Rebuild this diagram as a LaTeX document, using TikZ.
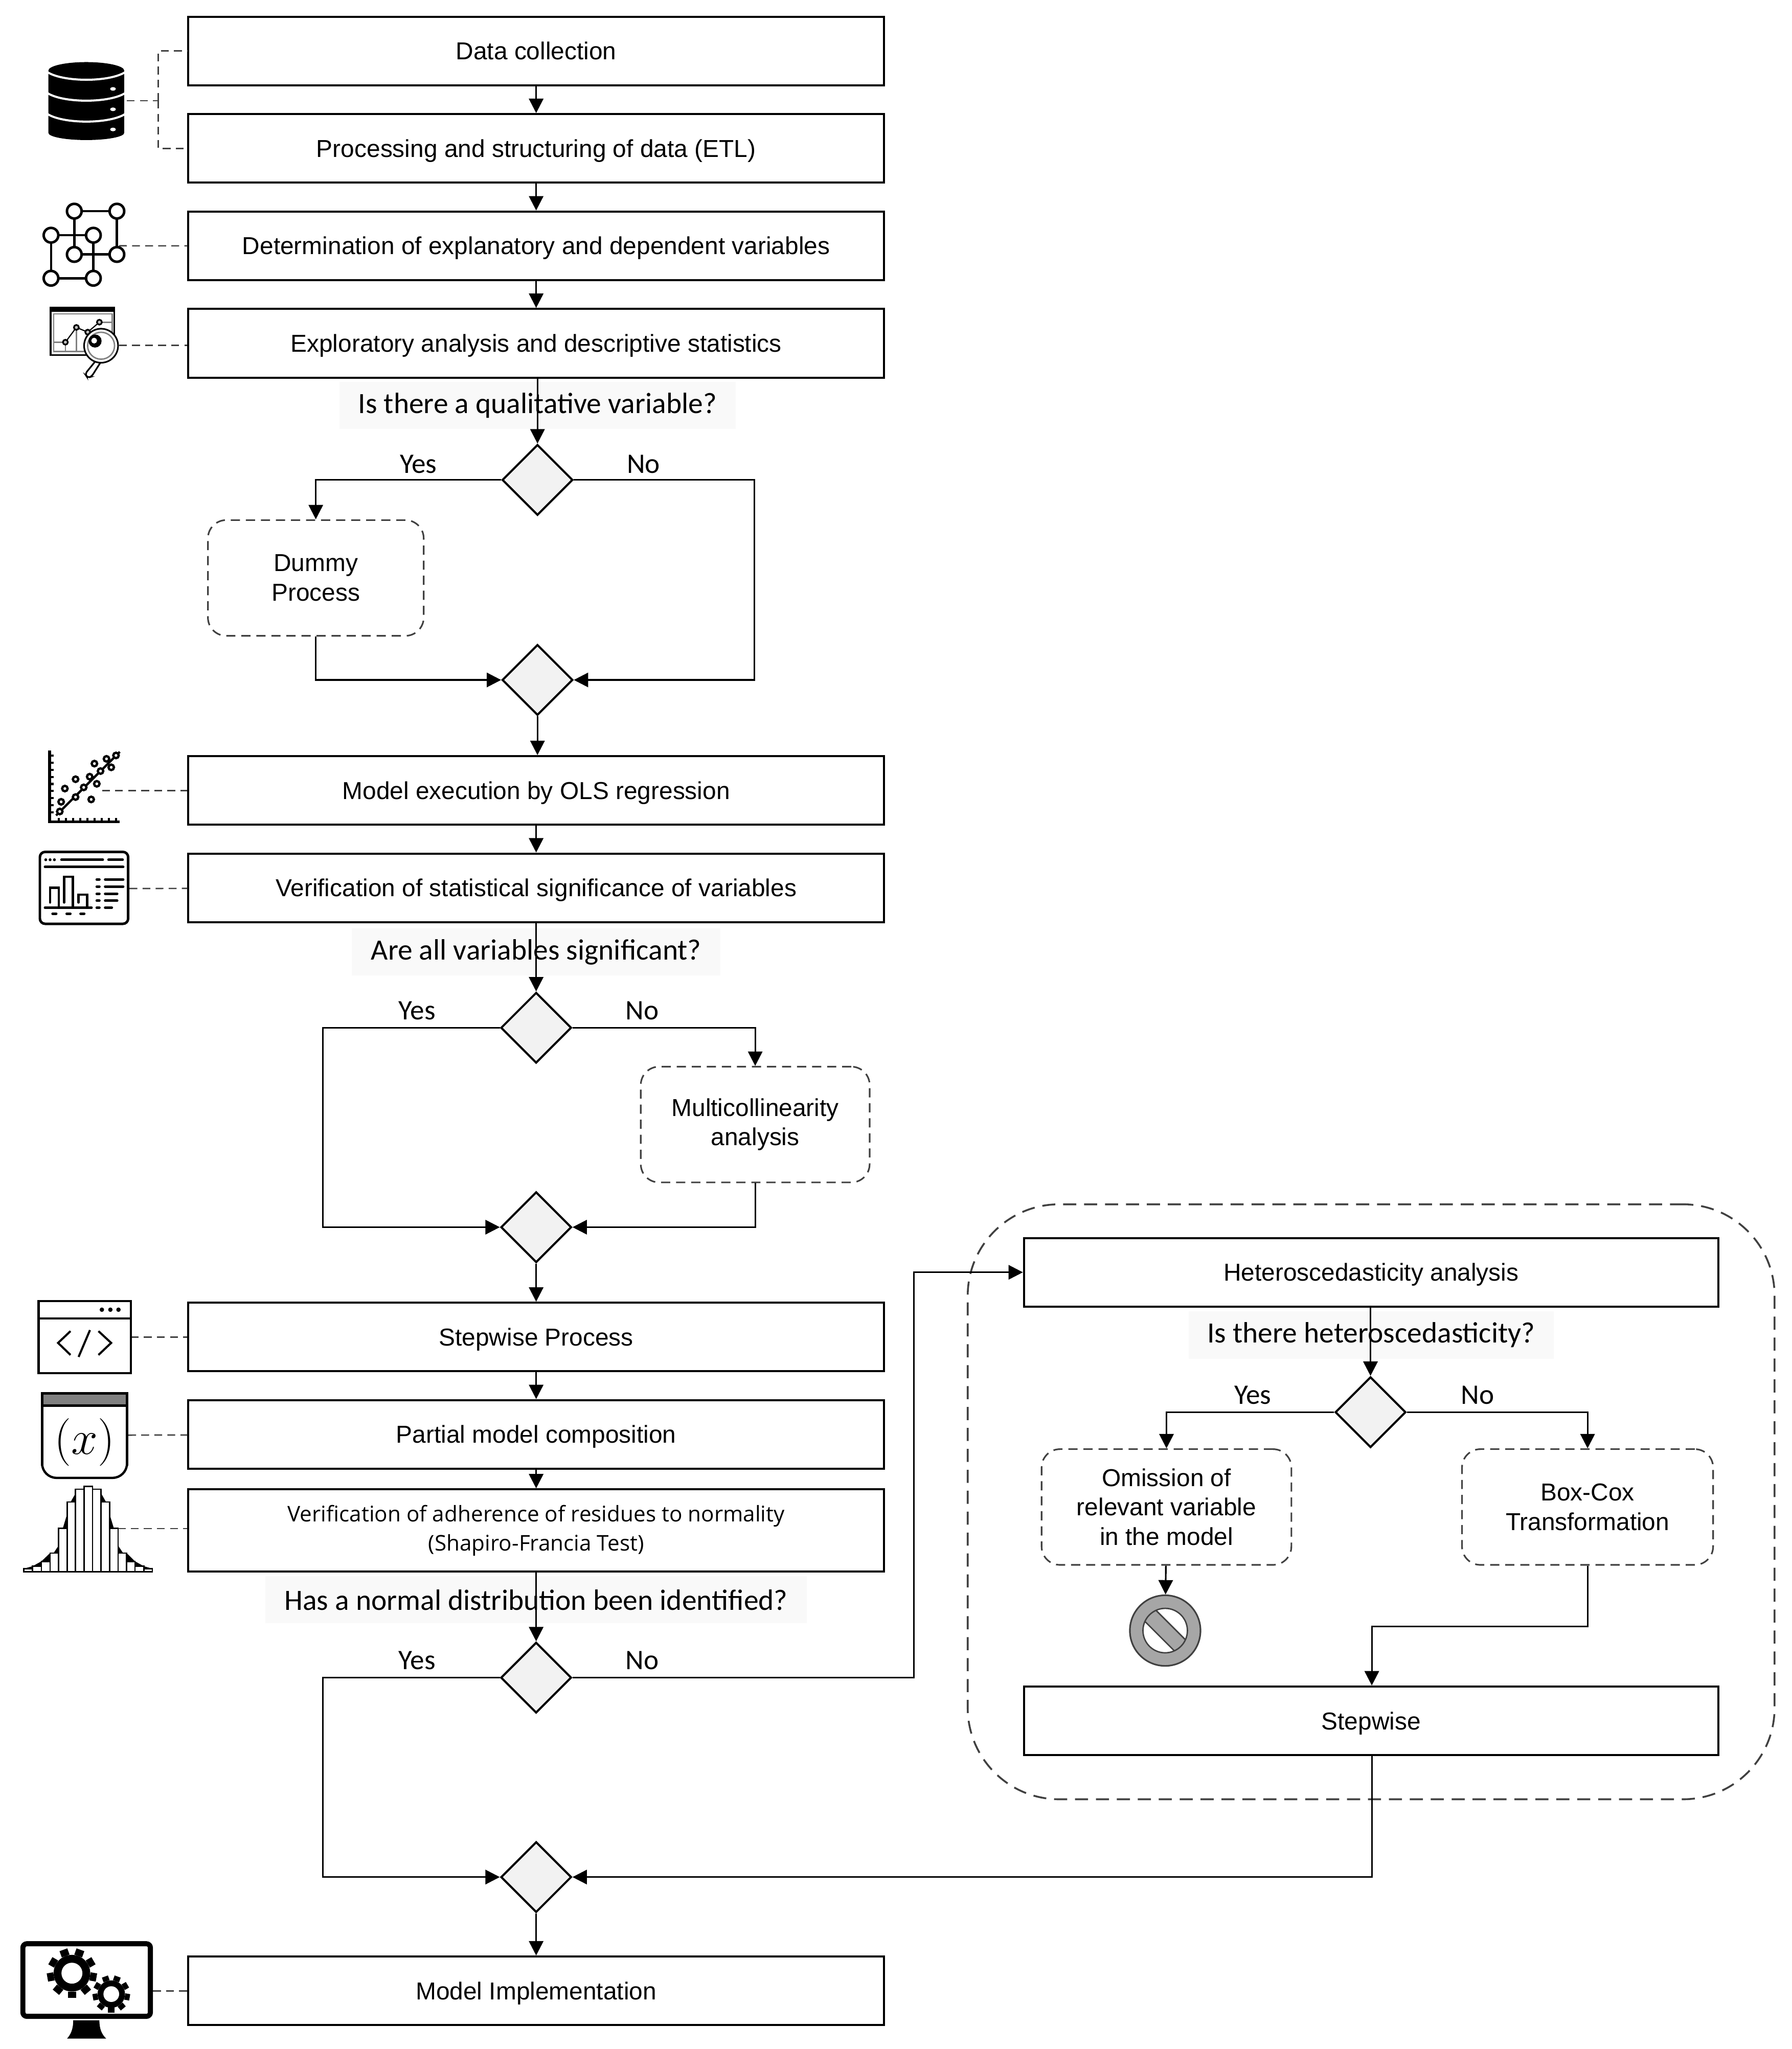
\documentclass[tikz,border=0pt]{standalone}
\usepackage{fontspec}
\setmainfont{Liberation Sans}
\newfontfamily\askfont{Carlito}
\newfontfamily\testfont{Open Sans}
\usetikzlibrary{arrows.meta, positioning, shapes.geometric}
\definecolor{edgegray}{HTML}{404040}
\definecolor{askfill}{HTML}{F9F9F9}
\definecolor{decidefill}{HTML}{F2F2F2}
\definecolor{stopgray}{HTML}{A6A6A6}
\newcommand{\gearicon}[5]{
\foreach \a in {90,130,...,410}
	\draw[line width=#5] ([shift={(#1,#2)}]\a:#3) -- ([shift={(#1,#2)}]\a:#3+#3*0.36);
\fill[black] (#1,#2) circle [radius=#3];
\fill[white] (#1,#2) circle [radius=#4];
}

\begin{document}
\begin{tikzpicture}[
						x=0.2mm, y=-0.2mm,
						node distance={14.9mm},
						boxstep/.style = {draw, line width=0.9pt, minimum width=106.4mm, minimum height=10.5mm, font=\fontsize{10.65}{12.8}\selectfont, align=center, fill=white},
						rowstep/.style = {boxstep, text height=7.6pt, text depth=0pt},
						dashstep/.style = {draw=edgegray, line width=0.7pt, dash pattern=on 1.4mm off 0.9mm, rounded corners=2.8mm, minimum height=17.7mm, font=\fontsize{10.65}{12.8}\selectfont, align=center},
						decide/.style = {draw, line width=0.9pt, fill=decidefill, diamond, aspect=1, inner sep=0pt, minimum width=10.8mm, minimum height=10.8mm},
						asklabel/.style = {fill=askfill, font=\askfont\fontsize{12.8}{15}\selectfont, inner sep=0pt, minimum height=7.2mm},
						answer/.style = {font=\askfont\fontsize{12.3}{15}\selectfont, inner sep=0pt},
						flow/.style = {-{Triangle[length=2.2mm, width=2.2mm]}, line width=0.7pt},
						guide/.style = {draw=edgegray, line width=0.6pt, dash pattern=on 1.2mm off 0.8mm}
					]
\useasboundingbox (0,0) rectangle (1370,1567);

\node[draw=edgegray, line width=0.8pt, dash pattern=on 2mm off 1.2mm, rounded corners=14mm, minimum width=123.4mm, minimum height=91mm] (group) at (1048.5,1148.5) {};

\node[rowstep] (1) at (410,39) {Data collection};
\node[rowstep] (2) [below of=1] {Processing and structuring of data (ETL)};
\node[rowstep] (3) [below of=2] {Determination of explanatory and dependent variables};
\node[rowstep] (4) [below of=3] {Exploratory analysis and descriptive statistics};
\node[asklabel, minimum width=60.6mm] (ask1) at (411,310) {Is there a qualitative variable?};
\node[decide] (d1) at (411,367) {};
\node[dashstep, minimum width=33mm] (dummy) at (241.5,442) {Dummy\\Process};
\node[decide] (d2) at (411,520) {};
\node[rowstep] (5) at (410,604.5) {Model execution by OLS regression};
\node[rowstep] (6) [below of=5] {Verification of statistical significance of variables};
\node[asklabel, minimum width=56.4mm] (ask2) at (410,728) {Are all variables significant?};
\node[decide] (d3) at (410,786) {};
\node[dashstep, minimum width=35mm] (multi) at (577.5,860) {Multicollinearity\\analysis};
\node[decide] (d4) at (410,938.5) {};
\node[rowstep] (7) at (410,1022.5) {Stepwise Process};
\node[rowstep] (8) [below of=7] {Partial model composition};
\node[boxstep, minimum height=12.6mm, font=\testfont\fontsize{9.4}{12.8}\selectfont] (9) at (410,1170.5) {Verification of adherence of residues to normality\\(Shapiro-Francia Test)};
\node[asklabel, minimum width=82.8mm] (ask3) at (410,1223.5) {Has a normal distribution been identified?};
\node[decide] (d5) at (410,1283) {};
\node[decide] (d6) at (410,1435.5) {};
\node[rowstep] (10) at (410,1522.5) {Model Implementation};

\node[rowstep, minimum width=106.2mm] (hetero) at (1048.5,973) {Heteroscedasticity analysis};
\node[asklabel, minimum width=55.8mm] (ask4) at (1048.5,1021) {Is there heteroscedasticity?};
\node[decide] (d7) at (1048,1080) {};
\node[dashstep, minimum width=38.2mm] (omit) at (892,1152.5) {Omission of\\relevant variable\\in the model};
\node[dashstep, minimum width=38.4mm] (boxcox) at (1214,1152.5) {Box-Cox\\Transformation};
\node[draw=edgegray, line width=0.7pt, fill=stopgray, circle, inner sep=0pt, minimum size=10.8mm] (stop) at (891,1247) {};
\node[rowstep, minimum width=106.2mm] (stepwise) at (1048.5,1316) {Stepwise};

\begin{scope}
\clip (891,1247) circle [radius=17];
\fill[white] (891,1247) circle [radius=17];
\draw[edgegray, line width=0.6pt, fill=stopgray, rotate around={-45:(891,1247)}] (860,1241) rectangle (922,1253);
\end{scope}
\draw[edgegray, line width=0.6pt] (891,1247) circle [radius=17];

\node[answer] (y1) at (320,355) {Yes};
\node[answer] (n1) at (492,355) {No};
\node[answer] (y2) at (319,773) {Yes};
\node[answer] (n2) at (491,773) {No};
\node[answer] (y3) at (319,1270) {Yes};
\node[answer] (n3) at (491,1270) {No};
\node[answer] (y4) at (958,1067) {Yes};
\node[answer] (n4) at (1130,1067) {No};

\draw[flow] (1) -- (2);
\draw[flow] (2) -- (3);
\draw[flow] (3) -- (4);
\draw[flow] (4.south -| d1) -- (d1);
\draw[flow] (d1) -| (dummy);
\draw[flow] (d1) -| (577,520) -- (d2);
\draw[flow] (dummy) |- (d2);
\draw[flow] (d2) -- (d2 |- 5.north);
\draw[flow] (5) -- (6);
\draw[flow] (6) -- (d3);
\draw[flow] (d3) -| (247,938.5) -- (d4);
\draw[flow] (d3) -| (multi);
\draw[flow] (multi) |- (d4);
\draw[flow] (d4) -- (7);
\draw[flow] (7) -- (8);
\draw[flow] (8) -- (9);
\draw[flow] (9) -- (d5);
\draw[flow] (d5) -| (247,1435.5) -- (d6);
\draw[flow] (d5) -| (699,973) -- (hetero);
\draw[flow] (hetero.south -| d7) -- (d7);
\draw[flow] (d7) -| (omit);
\draw[flow] (d7) -| (boxcox);
\draw[flow] (omit) -- (stop);
\draw[flow] (boxcox) |- (1049,1244) -- (stepwise.north -| 1049,0);
\draw[flow] (stepwise.south -| 1049,0) |- (d6);
\draw[flow] (d6) -- (10);

\coordinate (dbjoin) at (121,77);
\coordinate (dbpin) at (97,77);
\coordinate (netpin) at (91,188);
\coordinate (lenspin) at (91,264);
\coordinate (scatterpin) at (78,604.5);
\coordinate (panelpin) at (99,679.5);
\coordinate (codepin) at (100,1022.5);
\coordinate (funcpin) at (98,1097.5);
\coordinate (bellpin) at (90,1169);
\coordinate (screenpin) at (117,1522.5);

\draw[guide] (dbpin) -- (dbjoin);
\draw[guide] (dbjoin) |- (1);
\draw[guide] (dbjoin) |- (2);
\draw[guide] (netpin) -- (3);
\draw[guide] (lenspin) -- (4.west |- lenspin);
\draw[guide] (scatterpin) -- (5);
\draw[guide] (panelpin) -- (6);
\draw[guide] (codepin) -- (7);
\draw[guide] (funcpin) -- (8);
\draw[guide] (bellpin) -- (9.west |- bellpin);
\draw[guide] (screenpin) -- (10);

\fill (37,54) arc [start angle=180, end angle=360, x radius=29, y radius=6.5] -- (95,101.6) arc [start angle=0, end angle=180, x radius=29, y radius=5.5] -- cycle;
\foreach \y in {55,71,87}
	\draw[white, line width=0.9pt] (36,\y) .. controls (48,\y+8) and (84,\y+8) .. (96,\y);
\foreach \y in {68,83.6,99}
	\fill[white] (86.4,\y) ellipse [x radius=2.2, y radius=1.4];

\foreach \xa/\ya/\xb/\yb in {56.8/161.5/89.4/161.5, 56.8/161.5/56.8/194.6, 89.4/161.5/89.4/194.6, 39/179.9/71.4/179.9, 56.8/194.6/89.4/194.6, 39/179.9/39/212.8, 71.4/179.9/71.4/212.8, 39/212.8/71.4/212.8}
	\draw[line width=1pt] (\xa,\ya) -- (\xb,\yb);
\foreach \xa/\ya in {56.8/161.5, 89.4/161.5, 39/179.9, 71.4/179.9, 56.8/194.6, 89.4/194.6, 39/212.8, 71.4/212.8}
	\draw[line width=1.1pt, fill=white] (\xa,\ya) circle [radius=5.6];

\draw[line width=0.7pt] (38.7,235.3) rectangle (87.3,271.6);
\fill (38.7,235.3) rectangle (87.3,238.3);
\draw[gray, line width=0.6pt] (41,240) rectangle (85.7,268.9);
\draw[gray, line width=0.6pt] (41,261.7) -- (50,261.7) (50,261.7) -- (50,268.9) (58.4,250.4) -- (58.4,268.9) (76,246.4) -- (85.7,246.4);
\draw[line width=0.5pt] (50,261.7) -- (58.4,250.4) -- (67.1,254) -- (76,246.4);
\foreach \xa/\ya in {50/261.7, 58.4/250.4, 67.1/254, 76/246.4}
	\draw[line width=0.7pt, fill=lightgray] (\xa,\ya) circle [radius=1.9];
\draw[line width=0.7pt, fill=white, rounded corners=0.4mm] (74,275) -- (65,286) -- (67,289) -- (70,288) -- (77,277);
\draw[line width=0.7pt, fill=white] (77.3,264.4) circle [radius=13];
\draw[gray, line width=0.6pt] (77.3,264.4) circle [radius=10.3];
\fill (72.7,260.8) circle [radius=5];
\fill[white] (72,260.5) circle [radius=2.2];

\draw[line width=1.2pt] (37.9,574) -- (37.9,628.4) -- (91.6,628.4);
\foreach \y in {105,147,...,441}
	\draw[line width=0.9pt] (37.9,564.1+\y/7.7) -- (41,564.1+\y/7.7);
\foreach \x in {347,389,...,683}
	\draw[line width=0.9pt] (\x/7.7,628.4) -- (\x/7.7,625.5);
\draw[line width=1pt] (42.9,623.6) -- (91.6,575);
\foreach \xa/\ya in {352/435, 445/350, 493/293, 592/197, 683/105, 360/378, 382/300, 445/245, 528/230, 570/272, 537/364, 556/153, 627/125, 655/175}
	\draw[line width=1pt, fill=white] (\xa/7.7,564.1+\ya/7.7) circle [radius=2.1];

\draw[line width=1.1pt, rounded corners=0.8mm] (30.5,651.5) rectangle (98,706.5);
\foreach \x in {35,38.3,41.6}
	\fill (\x,657.5) circle [radius=1.1];
\draw[line width=1.1pt, line cap=round] (47,657.5) -- (78.6,657.5) (83,657.5) -- (93.8,657.5) (34.4,663) -- (94.2,663) (34.4,694.1) -- (70,694.1);
\draw[line width=1pt, line cap=round] (38.3,690.2) -- (38.3,679) -- (45,679) -- (45,694.1) (49,690.2) -- (49,670.5) -- (55.8,670.5) -- (55.8,694.1) (60,690.2) -- (60,684.1) -- (66.6,684.1) -- (66.6,694.1);
\foreach \y/\xb in {672.6/94.2, 678/94.2, 683.5/89.6, 688.8/89.6, 694.1/85.5}
	\draw[line width=1.1pt, line cap=round] (74,\y) -- (76,\y) (80.4,\y) -- (\xb,\y);
\foreach \xa/\xb in {40.2/43, 51/53.8, 61.6/64.4}
	\draw[line width=1.1pt, line cap=round] (\xa,698.7) -- (\xb,698.7);

\draw[line width=1pt] (29.6,995) rectangle (100,1050.2);
\draw[line width=1pt] (29.6,1008.2) -- (100,1008.2);
\foreach \x in {77.9,84.4,90.6}
	\fill (\x,1001.6) circle [radius=1.7];
\draw[line width=0.9pt] (53.9,1018) -- (44.4,1027) -- (53.9,1036.2) (68.8,1017.2) -- (60.1,1037.7) (75.3,1018) -- (85,1027) -- (75.3,1036.2);

\draw[line width=1pt, rounded corners=2.2mm] (32.2,1120) -- (32.2,1130.2) -- (97.1,1130.2) -- (97.1,1120);
\draw[line width=1pt, fill=gray] (32.2,1065.5) rectangle (97.1,1075);
\draw[line width=1pt] (32.2,1075) -- (32.2,1121) (97.1,1075) -- (97.1,1121);
\node[inner sep=0pt, font=\fontsize{21}{24}\selectfont] (funcmark) at (64.7,1103) {$(x)$};

\fill (18.2,1199.6) -- (24.9,1197.8) -- (31.7,1194) -- (38.3,1187.7) -- (41,1187.7) -- (44.8,1182) -- (44.8,1168.9) -- (48,1168.9) -- (51.3,1158) -- (51.3,1148.7) -- (54,1148.7) -- (57.8,1142) -- (77.3,1142) -- (81.1,1148.7) -- (83.8,1148.7) -- (83.8,1158) -- (87.1,1168.9) -- (90.3,1168.9) -- (90.3,1182) -- (94.1,1187.7) -- (96.8,1187.7) -- (103.2,1194) -- (110,1197.8) -- (116.5,1199.6) -- (116.5,1202) -- (18.2,1202) -- cycle;
\foreach \xa/\xb/\ya in {18.2/24.9/1199.6, 24.9/31.7/1197.8, 31.7/38.3/1194.1, 38.3/44.8/1187.7, 44.8/51.3/1168.9, 51.3/57.8/1148.7, 57.8/64.3/1138.9, 64.3/70.8/1136.7, 70.8/77.3/1138.9, 77.3/83.8/1148.7, 83.8/90.3/1168.9, 90.3/96.8/1187.7, 96.8/103.2/1194.1, 103.2/110/1197.8, 110/116.5/1199.6}
	\draw[line width=0.6pt, fill=white] (\xa,1202) rectangle (\xb,\ya);

\draw[line width=2.2pt, rounded corners=0.6mm] (17.5,1486.5) rectangle (115,1542);
\fill (56,1545) -- (76,1545) .. controls (76,1552) and (78,1556) .. (81.2,1559) -- (51.3,1559) .. controls (54,1556) and (56,1552) .. (56,1545) -- cycle;
\gearicon{55}{1509}{14}{8}{3.6pt}
\gearicon{85.1}{1525}{10.5}{6}{2.8pt}
\end{tikzpicture}
\end{document}
